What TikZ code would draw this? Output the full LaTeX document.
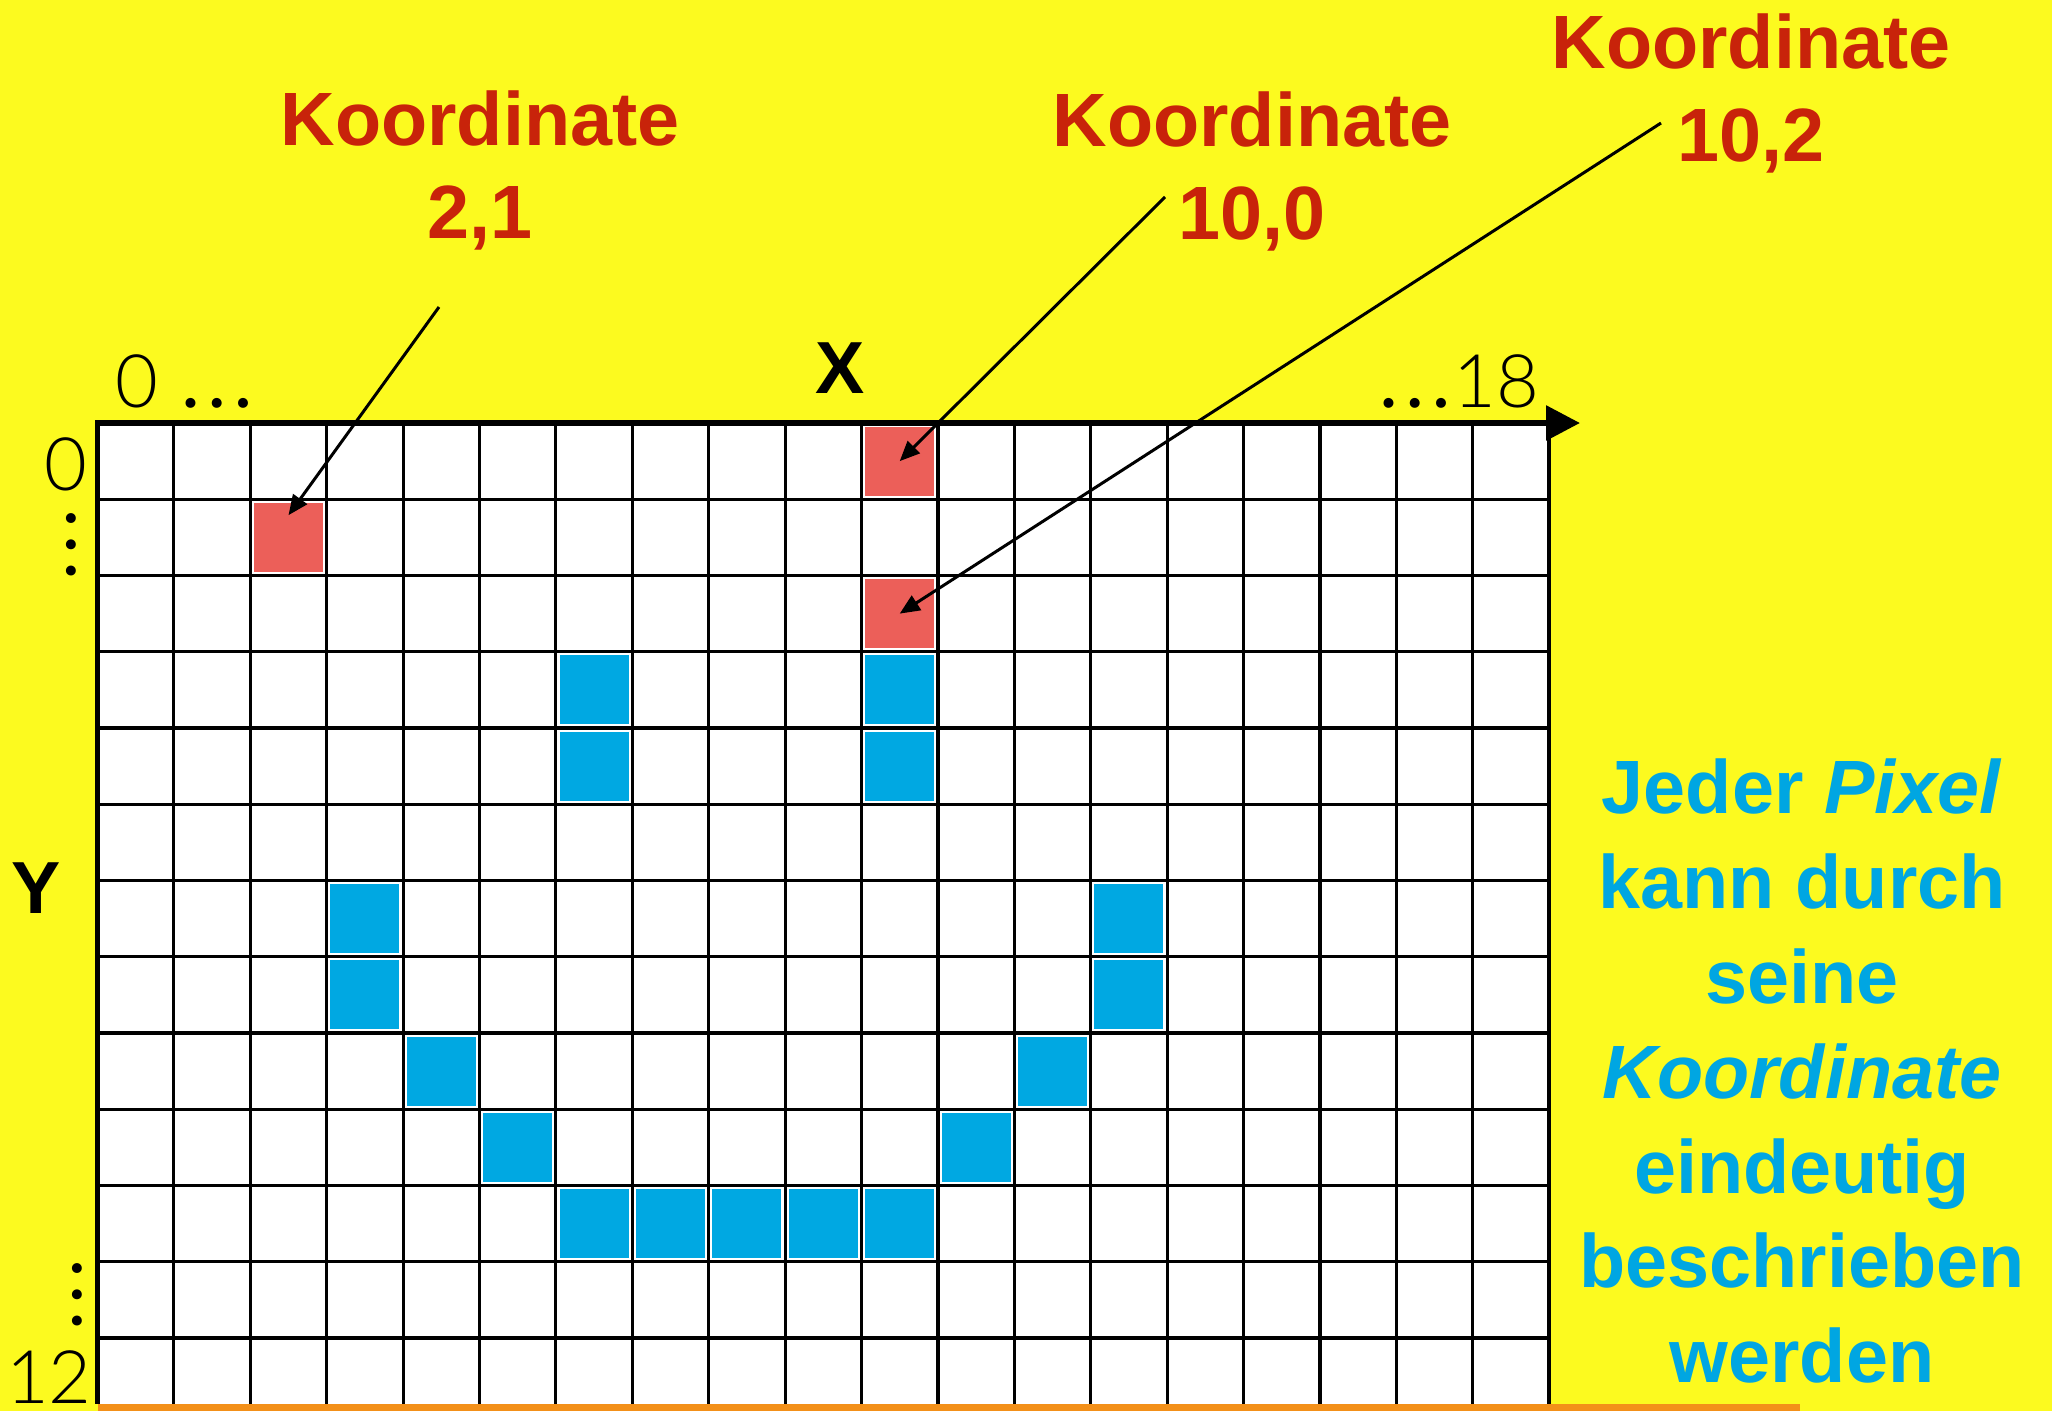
\documentclass[tikz,border=0pt]{standalone}
\usepackage{fontspec}
\setmainfont{Liberation Sans}
\newfontfamily\thinfont{Lato Light}
\usetikzlibrary{arrows.meta, positioning}

\definecolor{bgyellow}{RGB}{252,250,31}
\definecolor{cellred}{RGB}{236,95,89}
\definecolor{cellblue}{RGB}{0,168,226}
\definecolor{textred}{RGB}{200,35,10}
\definecolor{textblue}{RGB}{0,166,226}
\definecolor{barorange}{RGB}{243,144,25}

\newcommand{\bigdots}{\scalebox{1.45}{…}}

\begin{document}
\begin{tikzpicture}[
    gridline/.style={black, line width=0.9pt},
    pixel/.style={rectangle, minimum size=0.69cm, inner sep=0pt},
    redpixel/.style={pixel, fill=cellred},
    bluepixel/.style={pixel, fill=cellblue},
    coordlabel/.style={font=\bfseries\fontsize{21.5}{26.5}\selectfont, text=textred, align=center, inner sep=0pt},
    hinttext/.style={font=\bfseries\fontsize{21.5}{27}\selectfont, text=textblue, align=center, inner sep=0pt},
    scalenum/.style={font=\thinfont\fontsize{21}{25}\selectfont, inner sep=0pt},
    axisname/.style={font=\bfseries\fontsize{21}{25}\selectfont, inner sep=0pt},
    pointer/.style={-{Triangle[length=0.2cm, width=0.17cm]}, line width=0.85pt}
]
\def\gx{0.975}
\def\gy{-4.23}
\def\cw{0.764}
\def\ch{0.7625}

% Background and bounding box
\path[use as bounding box, fill=bgyellow] (0,0) rectangle (20.52,-14.11);

% Pixel grid
\fill[white] (\gx,\gy) rectangle ({\gx+19*\cw},-14.04);
\fill[barorange] (0.98,-14.04) rectangle (18.00,-14.11);
\foreach \i in {1,...,18}
    \draw[gridline] ({\gx+\i*\cw},\gy) -- ({\gx+\i*\cw},-14.04);
\foreach \j in {1,...,12}
    \draw[gridline] (\gx,{\gy-\j*\ch}) -- ({\gx+19*\cw},{\gy-\j*\ch});

% Coloured pixels
\node[redpixel] (px21) at ({\gx+2.5*\cw},{\gy-1.5*\ch}) {};
\node[redpixel] (px100) at ({\gx+10.5*\cw},{\gy-0.5*\ch}) {};
\node[redpixel] (px102) at ({\gx+10.5*\cw},{\gy-2.5*\ch}) {};
\foreach \c/\r in {6/3, 6/4, 10/3, 10/4, 3/6, 3/7, 13/6, 13/7, 4/8, 12/8, 5/9, 11/9, 6/10, 7/10, 8/10, 9/10, 10/10}
    \node[bluepixel] (px-\c-\r) at ({\gx+(\c+0.5)*\cw},{\gy-(\r+0.5)*\ch}) {};

% Axes
\coordinate (origin) at (\gx,\gy);
\coordinate (xtip) at (15.80,\gy);
\coordinate (ybottom) at (\gx,-14.04);
\draw[line width=1.1pt] ({\gx+19*\cw},\gy) -- ({\gx+19*\cw},-14.04);
\draw[line width=1.4pt] (origin) -- (ybottom);
\draw[line width=1.7pt, -{Triangle[length=0.34cm, width=0.34cm]}] ([xshift=-0.025cm]origin) -- (xtip);

% Axis labels
\node[axisname, anchor=base] (xname) at (8.40,-3.93) {X};
\node[axisname, anchor=base] (yname) at (0.36,-9.13) {Y};
\node[scalenum, anchor=base west] (xfirst) at (1.15,-4.07) {0 \bigdots};
\node[scalenum, anchor=base east] (xlast) at (15.40,-4.07) {\bigdots 18};
\node[scalenum, anchor=base] (yfirst) at (0.66,-4.90) {0};
\node[scalenum, rotate=90] (ydotstop) at (0.71,-5.45) {\bigdots};
\node[scalenum, rotate=90] (ydotsbot) at (0.77,-12.95) {\bigdots};
\node[scalenum, anchor=base] (ylast) at (0.49,-14.03) {12};

% Coordinate labels
\node[coordlabel, anchor=north] (lab21) at (4.80,-0.90) {Koordinate\\2,1};
\node[coordlabel, anchor=north] (lab100) at (12.52,-0.91) {Koordinate\\10,0};
\node[coordlabel, anchor=north] (lab102) at (17.51,-0.13) {Koordinate\\10,2};

% Arrows
\coordinate (from21) at (4.39,-3.07);
\coordinate (from100) at (11.65,-1.97);
\coordinate (from102) at (16.61,-1.23);
\draw[pointer] (from21) -- ([yshift=-0.13cm]px21.north);
\draw[pointer] (from100) -- (px100.center);
\draw[pointer] (from102) -- (px102.center);

% Explanation
\node[hinttext, anchor=north] (hint) at (18.02,-7.58) {Jeder \textit{Pixel}\\kann durch\\seine\\\textit{Koordinate}\\eindeutig\\beschrieben\\werden};

\end{tikzpicture}
\end{document}
